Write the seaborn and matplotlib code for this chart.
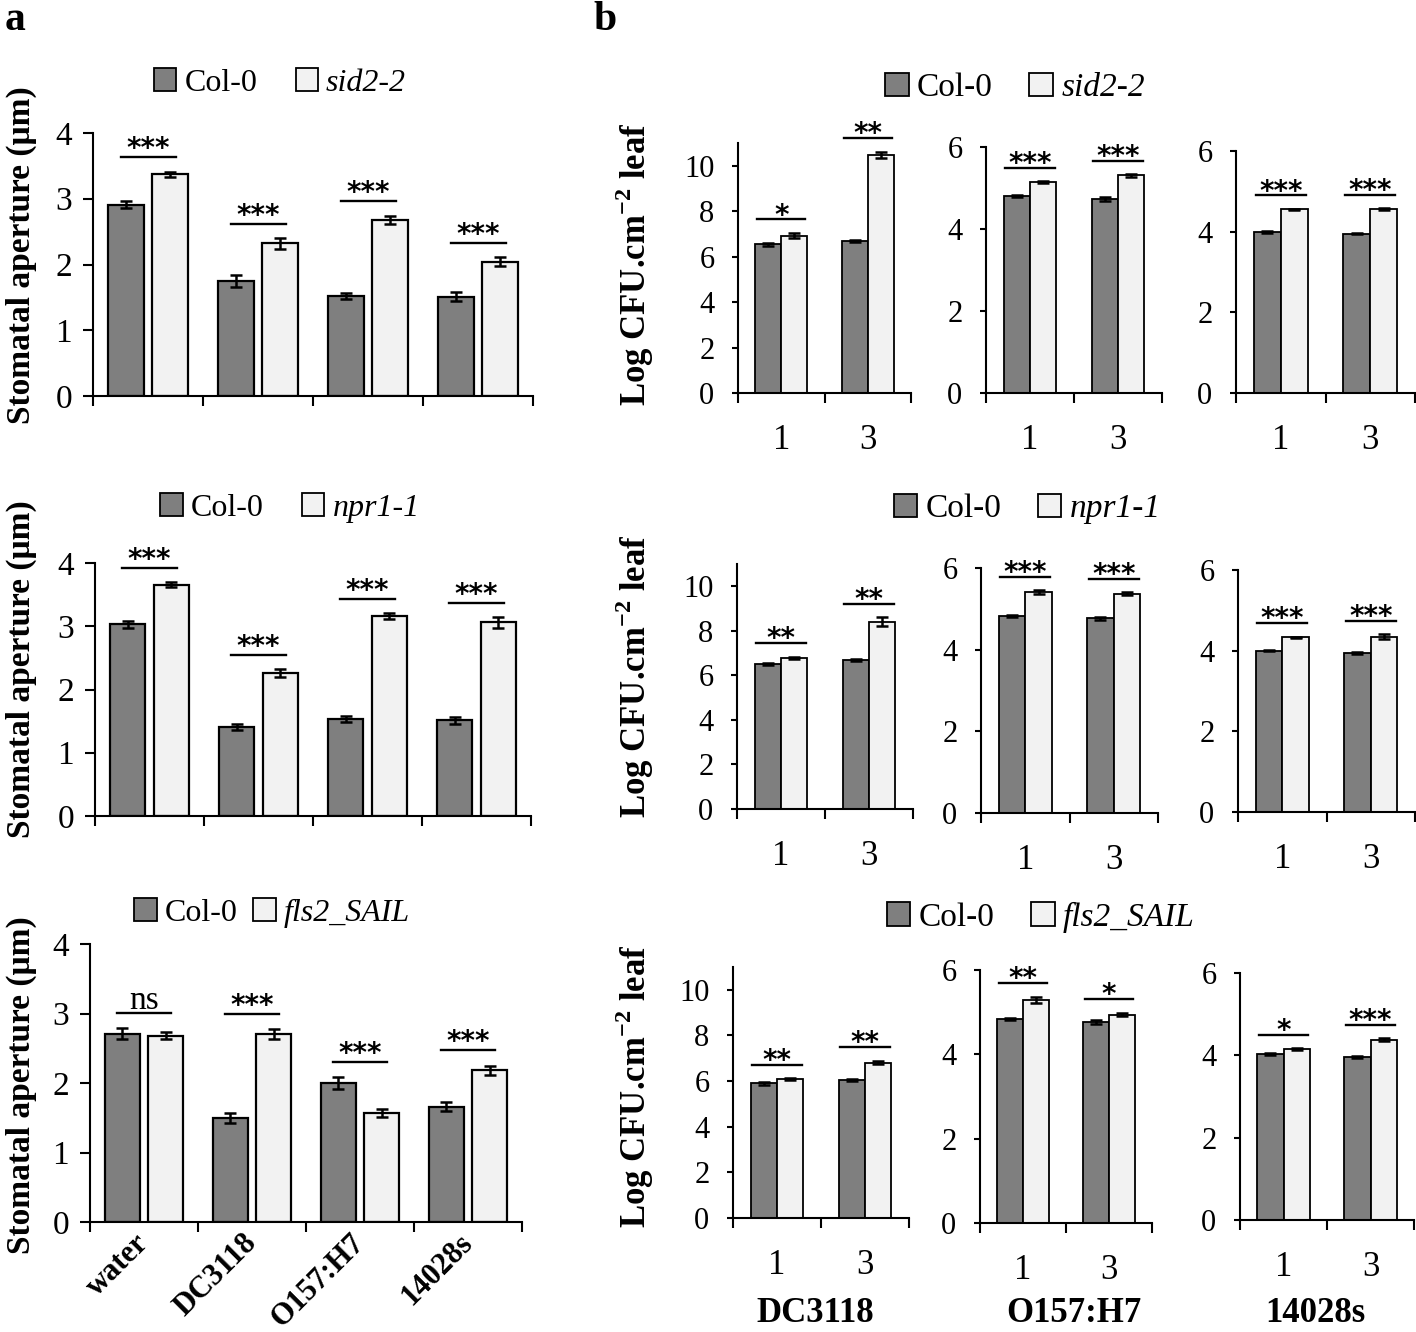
import numpy as np
import pandas as pd
import seaborn as sns
import matplotlib.pyplot as plt
from matplotlib.ticker import FixedLocator

plt.rcParams['font.family'] = ['Liberation Serif', 'DejaVu Serif']
plt.rcParams['mathtext.fontset'] = 'custom'
plt.rcParams['mathtext.rm'] = 'Liberation Serif'
plt.rcParams['mathtext.bf'] = 'Liberation Serif:bold'

W, H = 1416, 1332
DARK = '#7f7f7f'
LIGHT = '#f2f2f2'

# ---- panel a: stomatal aperture (um) ----
strains = ["water", "DC3118", "O157:H7", "14028s"]

a_sid2_col0 = [2.91, 1.75, 1.52, 1.51]
a_sid2_mut = [3.37, 2.32, 2.68, 2.04]
a_sid2_col0_err = [0.05, 0.09, 0.05, 0.07]
a_sid2_mut_err = [0.04, 0.08, 0.06, 0.07]
a_sid2_sig = ["***", "***", "***", "***"]

a_npr1_col0 = [3.03, 1.41, 1.53, 1.51]
a_npr1_mut = [3.66, 2.26, 3.16, 3.06]
a_npr1_col0_err = [0.05, 0.05, 0.05, 0.06]
a_npr1_mut_err = [0.04, 0.06, 0.05, 0.08]
a_npr1_sig = ["***", "***", "***", "***"]

a_fls2_col0 = [2.71, 1.50, 2.00, 1.66]
a_fls2_mut = [2.68, 2.71, 1.57, 2.18]
a_fls2_col0_err = [0.08, 0.07, 0.08, 0.06]
a_fls2_mut_err = [0.05, 0.07, 0.06, 0.07]
a_fls2_sig = ["ns", "***", "***", "***"]

# ---- panel b: Log CFU per cm2 leaf, days 1 and 3, per strain ----
days = ["1", "3"]
b_strains = ["DC3118", "O157:H7", "14028s"]

b_sid2_col0 = [[6.55, 6.70], [4.81, 4.73], [3.99, 3.95]]
b_sid2_mut = [[6.93, 10.47], [5.14, 5.31], [4.55, 4.56]]
b_sid2_col0_err = [[0.06, 0.05], [0.02, 0.04], [0.02, 0.02]]
b_sid2_mut_err = [[0.10, 0.15], [0.03, 0.03], [0.02, 0.03]]
b_sid2_sig = [["*", "**"], ["***", "***"], ["***", "***"]]

b_npr1_col0 = [[6.51, 6.69], [4.83, 4.77], [4.00, 3.94]]
b_npr1_mut = [[6.79, 8.41], [5.41, 5.37], [4.33, 4.35]]
b_npr1_col0_err = [[0.06, 0.05], [0.02, 0.04], [0.02, 0.02]]
b_npr1_mut_err = [[0.05, 0.20], [0.05, 0.03], [0.02, 0.06]]
b_npr1_sig = [["**", "**"], ["***", "***"], ["***", "***"]]

b_fls2_col0 = [[5.90, 6.05], [4.84, 4.77], [4.04, 3.96]]
b_fls2_mut = [[6.08, 6.81], [5.29, 4.94], [4.15, 4.38]]
b_fls2_col0_err = [[0.05, 0.05], [0.02, 0.05], [0.02, 0.02]]
b_fls2_mut_err = [[0.04, 0.07], [0.08, 0.04], [0.02, 0.03]]
b_fls2_sig = [["**", "**"], ["**", "*"], ["*", "***"]]

mutants = ["sid2-2", "npr1-1", "fls2_SAIL"]


def fx(px):
    return px / W


def fy(py):
    return 1 - py / H


def box(x0, x1, ybot, ytop):
    return [fx(x0), fy(ybot), (x1 - x0) / W, (ybot - ytop) / H]


def pair_bars(ax, cats, col0, mut, col0_err, mut_err, sig, mutant, ymax, ystep, kind, legend=False):
    n = len(cats)
    df = pd.DataFrame({
        "cat": cats * 2,
        "genotype": ["Col-0"] * n + [mutant] * n,
        "value": col0 + mut,
    })
    if kind == "a":
        width, gap, elw, half, dy = 0.8, 0.2, 1.6, 0.25, 0
    else:
        width, gap, elw, half, dy = 0.6, 0.0, 1.3, 0.28, -3
    sns.barplot(data=df, x="cat", y="value", hue="genotype", order=cats,
                hue_order=["Col-0", mutant], palette=[DARK, LIGHT],
                edgecolor="black", linewidth=elw, width=width, gap=gap,
                errorbar=None, legend=legend, ax=ax)
    bar_sets = list(ax.containers[:2])
    for bars, vals, errs in zip(bar_sets, [col0, mut], [col0_err, mut_err]):
        xs = [b.get_x() + b.get_width() / 2 for b in bars]
        ax.errorbar(xs, vals, yerr=errs, fmt="none", ecolor="black",
                    elinewidth=1.8, capsize=4.5, capthick=1.8, zorder=3)
    for i in range(n):
        top = max(col0[i] + col0_err[i], mut[i] + mut_err[i])
        y = top + 0.055 * ymax
        ax.plot([i - half, i + half], [y, y], color="black", lw=1.7, clip_on=False)
        if sig[i] == "ns":
            ax.annotate(sig[i], (i, y), xytext=(0, 3), textcoords="offset points",
                        ha="center", va="baseline", fontsize=24, annotation_clip=False)
        else:
            ax.annotate(sig[i], (i, y), xytext=(0, dy), textcoords="offset points",
                        ha="center", va="baseline", fontsize=20, fontweight="bold",
                        family="DejaVu Sans", annotation_clip=False)
    ax.set_xlim(-0.5, n - 0.5)
    ax.set_ylim(0, ymax)
    ax.set_yticks(np.arange(0, ymax + 0.01, ystep))
    ax.set_xlabel("")
    ax.set_ylabel("")
    ax.spines[["top", "right"]].set_visible(False)
    for s in ["left", "bottom"]:
        ax.spines[s].set_linewidth(1.5)
    ax.xaxis.set_minor_locator(FixedLocator(np.arange(-0.5, n, 1.0)))
    ax.tick_params(axis="x", which="major", length=0)
    ax.tick_params(axis="x", which="minor", length=7, width=1.5, direction="out")
    if kind == "a":
        ax.tick_params(axis="y", length=7, width=1.5, direction="out", labelsize=24, pad=8)
    else:
        ax.tick_params(axis="y", length=4, width=1.5, direction="out", labelsize=22, pad=13)
        ax.tick_params(axis="x", which="major", labelsize=25, pad=22)


def style_legend(ax, center, spacing, hsize):
    sns.move_legend(ax, loc="center", bbox_to_anchor=center, bbox_transform=fig.transFigure,
                    ncol=2, title=None, frameon=False, fontsize=hsize,
                    handlelength=0.7, handleheight=0.7, handletextpad=0.25,
                    columnspacing=spacing, borderaxespad=0)
    leg = ax.get_legend()
    for h in leg.legend_handles:
        h.set_edgecolor("black")
        h.set_linewidth(1.3)
    leg.get_texts()[1].set_fontstyle("italic")


fig = plt.figure(figsize=(W / 100, H / 100), dpi=100)

# panel a
a_data = [
    (a_sid2_col0, a_sid2_mut, a_sid2_col0_err, a_sid2_mut_err, a_sid2_sig),
    (a_npr1_col0, a_npr1_mut, a_npr1_col0_err, a_npr1_mut_err, a_npr1_sig),
    (a_fls2_col0, a_fls2_mut, a_fls2_col0_err, a_fls2_mut_err, a_fls2_sig),
]
a_boxes = [(93, 533, 396, 133), (95, 531, 816, 563), (90, 522, 1222, 944)]
a_leg = [(280, 83, 1.2), (290, 508, 1.2), (272, 913, 0.5)]
a_ylab_y = [255, 669, 1085]

for r in range(3):
    ax = fig.add_axes(box(*a_boxes[r]))
    c0, mu, c0e, mue, sg = a_data[r]
    pair_bars(ax, strains, c0, mu, c0e, mue, sg, mutants[r], 4, 1, "a", legend=True)
    lx, ly, sp = a_leg[r]
    style_legend(ax, (fx(lx), fy(ly)), sp, 23)
    ax.set_ylabel("Stomatal aperture (μm)", fontsize=24, fontweight="bold", va="center")
    ax.yaxis.set_label_coords(fx(21), fy(a_ylab_y[r]), transform=fig.transFigure)
    if r < 2:
        ax.tick_params(axis="x", labelbottom=False)
    else:
        ax.set_xticks(range(len(strains)))
        ax.set_xticklabels(strains, rotation=45, ha="right", va="center",
                           rotation_mode="anchor", fontweight="bold", fontsize=22)
        ax.tick_params(axis="x", which="major", pad=12)

# panel b
b_data = [
    (b_sid2_col0, b_sid2_mut, b_sid2_col0_err, b_sid2_mut_err, b_sid2_sig),
    (b_npr1_col0, b_npr1_mut, b_npr1_col0_err, b_npr1_mut_err, b_npr1_sig),
    (b_fls2_col0, b_fls2_mut, b_fls2_col0_err, b_fls2_mut_err, b_fls2_sig),
]
b_boxes = [
    [(738, 911, 393, 143), (986, 1162, 393, 147), (1236, 1415, 393, 151)],
    [(737, 913, 809, 564), (981, 1158, 813, 568), (1238, 1415, 812, 570)],
    [(733, 909, 1218, 967), (980, 1152, 1223, 970), (1240, 1414, 1220, 973)],
]
b_leg = [(1015, 88), (1027, 509), (1041, 917)]
b_ylab_y = [264, 676, 1086]
b_label_x = [815, 1074, 1315]

for r in range(3):
    c0, mu, c0e, mue, sg = b_data[r]
    for c in range(3):
        ax = fig.add_axes(box(*b_boxes[r][c]))
        ymax, ystep = (11, 2) if c == 0 else (6, 2)
        pair_bars(ax, days, c0[c], mu[c], c0e[c], mue[c], sg[c], mutants[r],
                  ymax, ystep, "b", legend=(c == 1))
        if c == 1:
            style_legend(ax, (fx(b_leg[r][0]), fy(b_leg[r][1])), 1.1, 24)
        if c == 0:
            ax.set_ylabel(r"Log CFU.cm$^{\mathbf{-2}}$ leaf", fontsize=25,
                          fontweight="bold", va="center")
            ax.yaxis.set_label_coords(fx(635), fy(b_ylab_y[r]), transform=fig.transFigure)
        if r == 2:
            ax.set_xlabel(b_strains[c], fontsize=25, fontweight="bold", va="center")
            ax.xaxis.set_label_coords(fx(b_label_x[c]), fy(1314), transform=fig.transFigure)

fig.text(fx(15), fy(20), "a", fontsize=30, fontweight="bold", ha="center", va="center")
fig.text(fx(605), fy(20), "b", fontsize=30, fontweight="bold", ha="center", va="center")

fig.savefig("out.png", dpi=100)
